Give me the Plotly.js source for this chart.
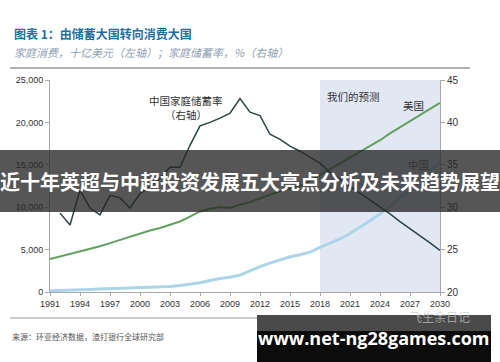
<!DOCTYPE html>
<html><head><meta charset="utf-8">
<script src="https://cdn.plot.ly/plotly-3.0.1.min.js"></script>
<style>html,body{margin:0;padding:0;background:#fff;}#chart{width:500px;height:362px;}</style>
</head><body><div id="chart"></div>
<script>
// ---- data ----
const years = [1991,1992,1993,1994,1995,1996,1997,1998,1999,2000,2001,2002,2003,2004,2005,2006,2007,2008,2009,2010,2011,2012,2013,2014,2015,2016,2017,2018,2019,2020,2021,2022,2023,2024,2025,2026,2027,2028,2029,2030];
const usConsumption = [3900,4200,4500,4780,5050,5400,5760,6150,6540,6950,7250,7540,7900,8320,8900,9500,9820,10020,9900,10300,10600,11050,11450,11900,12200,12500,13100,13800,14400,15100,15800,16500,17200,17900,18700,19400,20200,20900,21600,22300];
const chinaConsumption = [150,170,200,250,300,340,370,400,430,470,520,570,640,760,900,1100,1350,1600,1750,2000,2500,3000,3400,3800,4150,4400,4700,5250,5750,6250,6900,7600,8400,9200,10100,11000,12000,13100,14200,15300];
const savingsYears = [1992,1993,1994,1995,1996,1997,1998,1999,2000,2001,2002,2003,2004,2005,2006,2007,2008,2009,2010,2011,2012,2013,2014,2015,2016,2017,2018,2019,2020,2021,2022,2023,2024,2025,2026,2027,2028,2029,2030];
const chinaSavingsRate = [29.3,27.9,32.0,29.9,29.1,31.4,31.1,29.9,31.6,32.4,33.4,34.7,34.7,37.3,39.6,40.0,40.5,41.1,42.8,41.2,40.8,38.6,38.0,37.2,36.6,35.9,35.2,34.1,33.3,32.5,31.7,30.9,30.0,29.2,28.3,27.5,26.6,25.8,24.9];
const forecastStart = 2018, forecastEnd = 2030;
const xTickVals = [1991,1994,1997,2000,2003,2006,2009,2012,2015,2018,2021,2024,2027,2030];
const leftTickVals = [0,5000,10000,15000,20000,25000];
const leftTickText = ['0','5,000','10,000','15,000','20,000','25,000'];
const rightTickVals = [20,25,30,35,40,45];
const titleText = '图表 1：由储蓄大国转向消费大国';
const subtitleText = '家庭消费，十亿美元（左轴）；家庭储蓄率，%（右轴）';
const sourceText = '来源：环亚经济数据，渣打银行全球研究部';
const bannerText = '近十年英超与中超投资发展五大亮点分析及未来趋势展望';
const siteText = 'www.net-ng28games.com';
const markText = '飞生余日记';

// ---- layout helpers (pixel -> paper) ----
const L = 50, R = 440, T = 80, B = 292;
const px = v => (v - L) / (R - L);
const py = v => (B - v) / (B - T);

const axisFont = {family: 'Liberation Sans, Arial, sans-serif', size: 9, color: '#333'};
const cjk = 'Noto Sans CJK SC, sans-serif';

const traces = [
  {x: years, y: chinaConsumption, type: 'scatter', mode: 'lines', yaxis: 'y',
   line: {color: '#acd5ea', width: 3}, hoverinfo: 'skip'},
  {x: years, y: usConsumption, type: 'scatter', mode: 'lines', yaxis: 'y',
   line: {color: '#62a05d', width: 2}, hoverinfo: 'skip'},
  {x: savingsYears, y: chinaSavingsRate, type: 'scatter', mode: 'lines', yaxis: 'y2',
   line: {color: '#2a4343', width: 1.5}, hoverinfo: 'skip'}
];

const layout = {
  width: 500, height: 362,
  margin: {l: L, r: 500 - R, t: T, b: 362 - B, pad: 0},
  paper_bgcolor: '#ffffff', plot_bgcolor: 'rgba(0,0,0,0)',
  showlegend: false,
  xaxis: {range: [1991, 2030], tickvals: xTickVals, showgrid: false, zeroline: false,
    showline: true, linecolor: '#a8a8a8', linewidth: 1, ticks: 'outside', ticklen: 3,
    tickcolor: '#a8a8a8', tickfont: axisFont, fixedrange: true},
  yaxis: {range: [0, 25000], tickvals: leftTickVals, ticktext: leftTickText, showgrid: false,
    zeroline: false, showline: true, linecolor: '#a8a8a8', ticks: 'outside', ticklen: 4,
    tickcolor: '#a8a8a8', tickfont: axisFont, fixedrange: true},
  yaxis2: {range: [20, 45], tickvals: rightTickVals, overlaying: 'y', side: 'right',
    showgrid: false, zeroline: false, showline: true, linecolor: '#a8a8a8', ticks: 'outside',
    ticklen: 4, tickcolor: '#a8a8a8', tickfont: {family: axisFont.family, size: 10, color: '#333'}, fixedrange: true},
  shapes: [
    {type: 'rect', xref: 'x', yref: 'paper', x0: forecastStart, x1: forecastEnd, y0: 0, y1: 1,
     fillcolor: '#e2e8f3', line: {width: 0}, layer: 'below'},
    {type: 'line', xref: 'paper', yref: 'paper', x0: px(10), x1: px(470), y0: py(68), y1: py(68),
     line: {color: '#9a9a9a', width: 1.5}, layer: 'above'},
    {type: 'line', xref: 'paper', yref: 'paper', x0: px(10), x1: px(470), y0: py(318), y1: py(318),
     line: {color: '#9a9a9a', width: 1}, layer: 'above'},
    {type: 'rect', xref: 'paper', yref: 'paper', x0: px(-5), x1: px(505), y0: py(212), y1: py(150),
     fillcolor: 'rgba(38,38,38,0.78)', line: {width: 0}, layer: 'above'},
    {type: 'rect', xref: 'paper', yref: 'paper', x0: px(257), x1: px(491), y0: py(364), y1: py(315),
     fillcolor: '#0c0c0c', line: {width: 0}, layer: 'above'},
    {type: 'rect', xref: 'paper', yref: 'paper', x0: px(257), x1: px(491), y0: py(331), y1: py(315),
     fillcolor: '#4a4a4a', line: {width: 0}, layer: 'above'}
  ],
  annotations: [
    {xref: 'paper', yref: 'paper', x: px(12), y: py(33), xanchor: 'left', yanchor: 'middle',
     text: '<b>' + titleText + '</b>', showarrow: false,
     font: {family: cjk, size: 12, color: '#1f6f9f'}},
    {xref: 'paper', yref: 'paper', x: px(12), y: py(52), xanchor: 'left', yanchor: 'middle',
     text: '<i>' + subtitleText + '</i>', showarrow: false,
     font: {family: cjk, size: 11, color: '#8fa2b2'}},
    {xref: 'paper', yref: 'paper', x: px(10), y: py(336), xanchor: 'left', yanchor: 'middle',
     text: sourceText, showarrow: false, font: {family: cjk, size: 8, color: '#555'}},
    {xref: 'paper', yref: 'paper', x: px(186), y: py(100), xanchor: 'center', yanchor: 'middle',
     text: '中国家庭储蓄率', showarrow: false, font: {family: cjk, size: 10.5, color: '#333'}},
    {xref: 'paper', yref: 'paper', x: px(186), y: py(114), xanchor: 'center', yanchor: 'middle',
     text: '（右轴）', showarrow: false, font: {family: cjk, size: 10.5, color: '#333'}},
    {xref: 'paper', yref: 'paper', x: px(353), y: py(96), xanchor: 'center', yanchor: 'middle',
     text: '我们的预测', showarrow: false, font: {family: cjk, size: 10.5, color: '#333'}},
    {xref: 'paper', yref: 'paper', x: px(413), y: py(105), xanchor: 'center', yanchor: 'middle',
     text: '美国', showarrow: false, font: {family: cjk, size: 10.5, color: '#333'}},
    {xref: 'paper', yref: 'paper', x: px(418), y: py(164), xanchor: 'center', yanchor: 'middle',
     text: '中国', showarrow: false, font: {family: cjk, size: 10.5, color: '#333'}},
    {xref: 'paper', yref: 'paper', x: px(250), y: py(181), xanchor: 'center', yanchor: 'middle',
     text: '<b>' + bannerText + '</b>', showarrow: false,
     font: {family: cjk, size: 20, color: '#ffffff'}},
    {xref: 'paper', yref: 'paper', x: px(440), y: py(316), xanchor: 'center', yanchor: 'middle',
     text: markText, showarrow: false, font: {family: cjk, size: 12, color: 'rgba(200,200,200,0.7)'}},
    {xref: 'paper', yref: 'paper', x: px(374), y: py(338), xanchor: 'center', yanchor: 'middle',
     text: '<b>' + siteText + '</b>', showarrow: false,
     font: {family: 'Open Sans, DejaVu Sans, sans-serif', size: 18, color: '#ffffff'}}
  ]
};

Plotly.newPlot('chart', traces, layout, {displayModeBar: false, staticPlot: true});
</script>
</body></html>
